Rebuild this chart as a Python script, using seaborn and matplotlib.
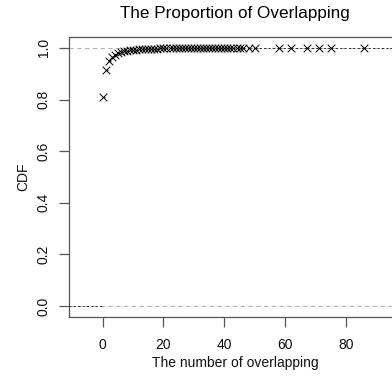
import matplotlib
matplotlib.use("Agg")
import matplotlib.pyplot as plt
import seaborn as sns
import numpy as np
import pandas as pd

# unique overlap counts and their ECDF values
overlap = [0, 1, 2, 3, 4, 5, 6, 7, 8, 9, 10, 11, 12, 13, 14, 15, 16, 17, 18, 19,
           20, 21, 22, 23, 24, 25, 26, 27, 28, 29, 30, 31, 32, 33, 34, 35, 36, 37,
           38, 39, 40, 41, 42, 43, 44, 45, 46, 48, 50, 58, 62, 67, 71, 75, 86]
cdf = [0.810, 0.913, 0.948, 0.965, 0.974, 0.980, 0.984, 0.987, 0.989, 0.991,
       0.9925, 0.9936, 0.9945, 0.9952, 0.9958, 0.9962, 0.9966, 0.9970, 0.9973, 0.9976,
       0.9978, 0.9980, 0.9982, 0.9984, 0.9985, 0.9986, 0.9987, 0.9988, 0.9989, 0.9990,
       0.9991, 0.9992, 0.9992, 0.9993, 0.9993, 0.9994, 0.9994, 0.9995, 0.9995, 0.9996,
       0.9996, 0.9996, 0.9997, 0.9997, 0.9997, 0.9998, 0.9998, 0.9998, 0.9999, 0.9999,
       0.9999, 0.99993, 0.99996, 0.99998, 1.0]
x_ticks = [0, 20, 40, 60, 80]
y_ticks = [0.0, 0.2, 0.4, 0.6, 0.8, 1.0]

df = pd.DataFrame({"overlap": overlap, "cdf": cdf})

sns.set_style("white")
plt.rcParams["font.family"] = ["Liberation Sans", "DejaVu Sans"]

fig = plt.figure(figsize=(3.92, 3.76), dpi=100)
ax = fig.add_axes([69 / 392, 1 - 317 / 376, (401 - 69) / 392, (317 - 37) / 376])

xlim = (-11.0, 98.0)
ylim = (-0.042, 1.042)
ax.set_xlim(*xlim)
ax.set_ylim(*ylim)

# reference lines at 0 and 1
for h in (0.0, 1.0):
    ax.axhline(h, color="#b3b3b3", lw=0.8, ls=(0, (4, 3)), zorder=1)

# step segments
xs = np.array(overlap, dtype=float)
ys = np.array(cdf)
starts = np.concatenate([[xlim[0]], xs])
ends = np.concatenate([xs, [xlim[1]]])
levels = np.concatenate([[0.0], ys])
ax.hlines(levels, starts, ends, colors="#222222", lw=0.7, linestyles=(0, (2, 2.5)), zorder=2)

sns.scatterplot(data=df, x="overlap", y="cdf", marker="x", color="black",
                s=30, linewidth=0.7, ax=ax, zorder=3, clip_on=True)

ax.set_xticks(x_ticks)
ax.set_xticklabels([str(v) for v in x_ticks])
ax.set_yticks(y_ticks)
ax.set_yticklabels([f"{v:.1f}" for v in y_ticks], rotation=90, va="center")

for s in ax.spines.values():
    s.set_color("#555555")
    s.set_linewidth(0.9)

ax.tick_params(axis="both", which="both", direction="out", length=7, width=0.9,
               color="#555555", labelsize=10, labelcolor="#111111",
               bottom=True, left=True)
ax.tick_params(axis="x", pad=8)
ax.tick_params(axis="y", pad=6)

ax.set_xlabel("The number of overlapping", fontsize=10, color="#111111", labelpad=3)
ax.set_ylabel("CDF", fontsize=10, color="#111111", labelpad=5)
ax.set_title("The Proportion of Overlapping", fontsize=12.3, color="black", pad=14)

fig.savefig("out.png", dpi=100)
